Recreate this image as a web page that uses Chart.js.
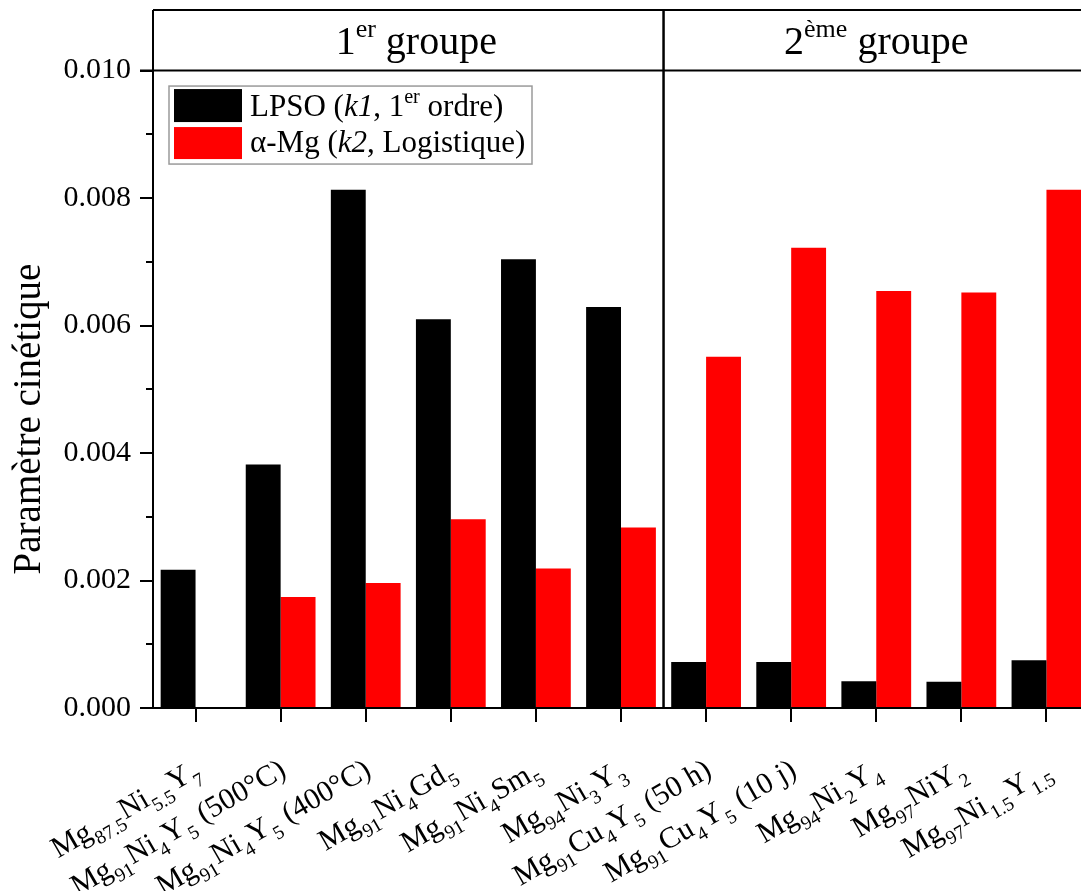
<!DOCTYPE html>
<html>
<head>
<meta charset="utf-8">
<script src="https://cdn.jsdelivr.net/npm/chart.js@4.4.0/dist/chart.umd.min.js"></script>
<style>
html,body{margin:0;padding:0;background:#fff;overflow:hidden;width:1081px;height:891px}
#wrap{width:1100px;height:891px}
</style>
</head>
<body>
<div id="wrap"><canvas id="c" width="1100" height="891"></canvas></div>
<script>
// ---- data (markup: _{sub}, ^{sup}, *italic*) ----
const categories = [
  'Mg_{87.5}Ni_{5.5}Y_{7}',
  'Mg_{91}Ni_{4}Y_{5} (500°C)',
  'Mg_{91}Ni_{4}Y_{5} (400°C)',
  'Mg_{91}Ni_{4}Gd_{5}',
  'Mg_{91}Ni_{4}Sm_{5}',
  'Mg_{94}Ni_{3}Y_{3}',
  'Mg_{91}Cu_{4}Y_{5} (50 h)',
  'Mg_{91}Cu_{4}Y_{5} (10 j)',
  'Mg_{94}Ni_{2}Y_{4}',
  'Mg_{97}NiY_{2}',
  'Mg_{97}Ni_{1.5}Y_{1.5}'
];
const lpso    = [0.00217, 0.00382, 0.00813, 0.00610, 0.00704, 0.00629, 0.00072, 0.00072, 0.00042, 0.00041, 0.00075];
const alphaMg = [null,    0.00174, 0.00196, 0.00296, 0.00219, 0.00283, 0.00551, 0.00722, 0.00654, 0.00652, 0.00813];
const seriesNames = ['LPSO (*k1*, 1^{er} ordre)', 'α-Mg (*k2*, Logistique)'];
const seriesColors = ['#000000', '#ff0000'];
const groupNames = ['1^{er} groupe', '2^{ème} groupe'];
const groupSizes = [6, 5];
const yTitle = 'Paramètre cinétique';
const yMin = 0, yMax = 0.01095, yStep = 0.001, yHeader = 0.010;

const FF = '"Liberation Serif", "Times New Roman", serif';

function parseRich(str) {
  const segs = [];
  const re = /_\{([^}]*)\}|\^\{([^}]*)\}|\*([^*]*)\*|([^_^*]+)/g;
  let m;
  while ((m = re.exec(str))) {
    if (m[1] !== undefined) segs.push({t: m[1], k: 'sub'});
    else if (m[2] !== undefined) segs.push({t: m[2], k: 'sup'});
    else if (m[3] !== undefined) segs.push({t: m[3], k: 'it'});
    else segs.push({t: m[4], k: 'n'});
  }
  return segs;
}
function plain(str) { return parseRich(str).map(s => s.t).join(''); }
function segFont(k, size) {
  if (k === 'sub' || k === 'sup') return (size * 0.65).toFixed(1) + 'px ' + FF;
  if (k === 'it') return 'italic ' + size + 'px ' + FF;
  return size + 'px ' + FF;
}
function drawRich(ctx, str, x, y, size, align, rot) {
  const segs = parseRich(str);
  let w = 0;
  segs.forEach(s => { ctx.font = segFont(s.k, size); s.w = ctx.measureText(s.t).width + (s.k === 'sub' ? size * 0.06 : 0); w += s.w; });
  ctx.save();
  ctx.translate(x, y);
  if (rot) ctx.rotate(rot);
  let cx = align === 'right' ? -w : (align === 'center' ? -w / 2 : 0);
  ctx.textBaseline = 'alphabetic';
  ctx.textAlign = 'left';
  ctx.fillStyle = '#000';
  segs.forEach(s => {
    ctx.font = segFont(s.k, size);
    const dy = s.k === 'sub' ? size * 0.30 : (s.k === 'sup' ? -size * 0.42 : 0);
    ctx.fillText(s.t, cx + (s.k === 'sub' ? size * 0.03 : 0), dy);
    cx += s.w;
  });
  ctx.restore();
}

const decor = {
  id: 'decor',
  afterDraw(chart) {
    const ctx = chart.ctx;
    const ca = chart.chartArea;
    const xs = chart.scales.x, ys = chart.scales.y;
    ctx.save();
    ctx.strokeStyle = '#000';
    ctx.lineWidth = 2;
    ctx.lineCap = 'butt';
    // frame
    const yH = ys.getPixelForValue(yHeader);
    ctx.beginPath();
    ctx.moveTo(ca.left, ca.top); ctx.lineTo(ca.right, ca.top);
    ctx.moveTo(ca.left - 13, yH); ctx.lineTo(ca.right, yH);
    ctx.moveTo(ca.right, ca.top); ctx.lineTo(ca.right, ca.bottom);
    ctx.moveTo(ca.left, ca.top); ctx.lineTo(ca.left, ca.bottom);
    ctx.moveTo(ca.left, ca.bottom); ctx.lineTo(ca.right, ca.bottom);
    ctx.stroke();
    // group dividers
    let idx = 0;
    const bounds = [ca.left];
    groupSizes.forEach((n, gi) => {
      idx += n;
      if (gi < groupSizes.length - 1) {
        const xd = (xs.getPixelForValue(idx - 1) + xs.getPixelForValue(idx)) / 2;
        bounds.push(xd);
        ctx.lineWidth = 2.5;
        ctx.beginPath(); ctx.moveTo(xd, ca.top); ctx.lineTo(xd, ca.bottom); ctx.stroke();
      }
    });
    bounds.push(ca.right);
    // y tick marks
    ctx.lineWidth = 2;
    ys.ticks.forEach(t => {
      const py = Math.round(ys.getPixelForValue(t.value));
      const major = Math.round(t.value / yStep) % 2 === 0;
      ctx.beginPath(); ctx.moveTo(ca.left - (major ? 13 : 7), py); ctx.lineTo(ca.left, py); ctx.stroke();
    });
    // x tick marks
    categories.forEach((c, i) => {
      const px = Math.round(xs.getPixelForValue(i));
      ctx.beginPath(); ctx.moveTo(px, ca.bottom); ctx.lineTo(px, ca.bottom + 14); ctx.stroke();
    });
    // group headers
    const hb = (ca.top + yH) / 2 + 14;
    groupNames.forEach((g, i) => {
      drawRich(ctx, g, (bounds[i] + bounds[i + 1]) / 2 + (i === 0 ? 8 : 0), hb, 40, 'center', 0);
    });
    // x labels
    categories.forEach((c, i) => {
      const px = xs.getPixelForValue(i);
      drawRich(ctx, c, px + 7, ca.bottom + 67, 30, 'right', -Math.PI / 6);
    });
    // y title
    drawRich(ctx, yTitle, 40, 419, 39, 'center', -Math.PI / 2);
    // legend
    const lx = ca.left + 16, ly = yH + 15.5, lw = 363, lh = 78;
    ctx.fillStyle = '#fff';
    ctx.fillRect(lx, ly, lw, lh);
    ctx.strokeStyle = '#9a9a9a';
    ctx.lineWidth = 1.5;
    ctx.strokeRect(lx, ly, lw, lh);
    const rows = [{y: ly + 3, h: 33, base: 30}, {y: ly + 41, h: 32, base: 66}];
    seriesNames.forEach((s, i) => {
      ctx.fillStyle = seriesColors[i];
      ctx.fillRect(lx + 5, rows[i].y, 68, rows[i].h);
      drawRich(ctx, s, lx + 81, ly + rows[i].base, 31, 'left', 0);
    });
    ctx.restore();
  }
};

new Chart(document.getElementById('c'), {
  type: 'bar',
  data: {
    labels: categories.map(plain),
    datasets: [
      {label: plain(seriesNames[0]), data: lpso, backgroundColor: seriesColors[0], borderWidth: 0, categoryPercentage: 0.82, barPercentage: 1.0},
      {label: plain(seriesNames[1]), data: alphaMg, backgroundColor: seriesColors[1], borderWidth: 0, categoryPercentage: 0.82, barPercentage: 1.0}
    ]
  },
  options: {
    responsive: false,
    animation: false,
    devicePixelRatio: 1,
    layout: {padding: {left: 0, right: 11, top: 10, bottom: 0}},
    plugins: {legend: {display: false}, tooltip: {enabled: false}, title: {display: false}},
    scales: {
      x: {
        grid: {display: false, drawTicks: false},
        border: {display: false},
        ticks: {display: false},
        afterFit: s => { s.height = 183; s.paddingLeft = 0; s.paddingRight = 0; s.paddingTop = 0; s.paddingBottom = 0; }
      },
      y: {
        min: yMin, max: yMax,
        grid: {display: false, drawTicks: false},
        border: {display: false},
        ticks: {
          stepSize: yStep, includeBounds: false, maxTicksLimit: 30, autoSkip: false,
          padding: 22, color: '#000',
          font: {family: FF, size: 30},
          callback: v => (Math.round(v / yStep) % 2 === 0 ? v.toFixed(3) : '')
        },
        afterFit: s => { s.width = 153; s.paddingTop = 0; s.paddingBottom = 0; s.paddingLeft = 0; s.paddingRight = 0; }
      }
    }
  },
  plugins: [decor]
});
</script>
</body>
</html>
